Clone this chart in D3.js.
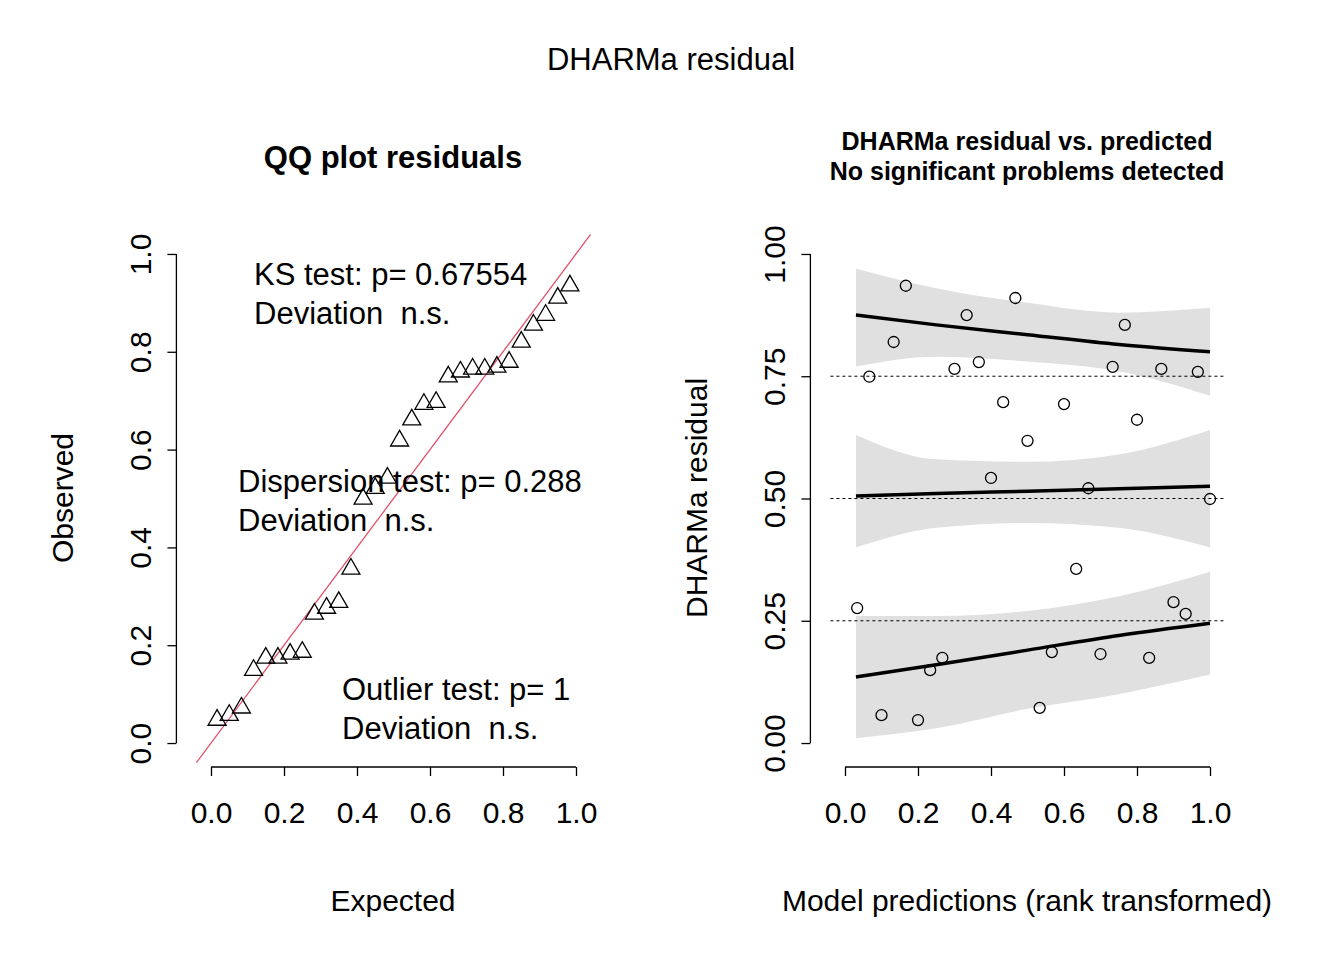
<!DOCTYPE html>
<html lang="en">
<head>
<meta charset="utf-8">
<title>DHARMa residual</title>
<script src="https://cdn.jsdelivr.net/npm/d3@7"></script>
<style>
body { margin: 0; background: white; }
text { font-family: "Liberation Sans", Arial, sans-serif; white-space: pre; }
</style>
</head>
<body>
<script>
var w = 1344, h = 960;
// scaled residuals, in order of model prediction rank
var resid = [0.276, 0.749, 0.057, 0.82, 0.935, 0.047, 0.149, 0.174, 0.765, 0.875,
             0.779, 0.542, 0.697, 0.91, 0.618, 0.072, 0.186, 0.693, 0.356, 0.521,
             0.182, 0.769, 0.855, 0.661, 0.174, 0.765, 0.288, 0.264, 0.759, 0.499];
var n = resid.length;
// quantile regression fits and bands: [x, lower, fit, upper]
var bands = [
  [[0.03, 0.01, 0.135, 0.26], [0.25, 0.03, 0.16, 0.26], [0.5, 0.07, 0.19, 0.27], [0.75, 0.10, 0.22, 0.30], [1.0, 0.14, 0.245, 0.35]],
  [[0.03, 0.40, 0.505, 0.63], [0.25, 0.44, 0.51, 0.58], [0.5, 0.45, 0.515, 0.575], [0.75, 0.44, 0.52, 0.59], [1.0, 0.40, 0.525, 0.64]],
  [[0.03, 0.77, 0.875, 0.97], [0.25, 0.79, 0.855, 0.93], [0.5, 0.78, 0.835, 0.90], [0.75, 0.76, 0.815, 0.88], [1.0, 0.71, 0.80, 0.89]]
];

var svg = d3.select("body").append("svg").attr("width", w).attr("height", h);

svg.append("text").attr("x", 671).attr("y", 70).attr("text-anchor", "middle")
  .attr("font-size", "31px").text("DHARMa residual");

var y = d3.scaleLinear().domain([-0.04, 1.04]).range([762.6, 234.4]);

function frame(g, x, yTicks, fmt) {
  var bx = g.append("g").attr("transform", "translate(0,767)")
    .call(d3.axisBottom(x).tickValues([0, 0.2, 0.4, 0.6, 0.8, 1]).tickFormat(d3.format(".1f")).tickSize(9).tickPadding(26));
  var ly = g.append("g").attr("transform", "translate(" + (x(-0.04) - 20) + ",0)")
    .call(d3.axisLeft(y).tickValues(yTicks).tickFormat(fmt).tickSize(9));
  [bx, ly].forEach(function(a) {
    a.attr("font-size", null).attr("font-family", null);
    a.selectAll("line").attr("stroke-width", 1.3);
    a.selectAll("text").style("font-size", "30px").style("font-family", "Liberation Sans, Arial, sans-serif");
  });
  bx.select(".domain").attr("stroke-width", 1.3).attr("d", "M" + x(0) + ",0H" + x(1));
  ly.select(".domain").attr("stroke-width", 1.3).attr("d", "M0," + y(0) + "V" + y(1));
  ly.selectAll(".tick text").attr("text-anchor", "middle").attr("dy", null)
    .attr("x", 0).attr("y", 0)
    .attr("transform", "translate(-36,0) rotate(-90)")
    .attr("dominant-baseline", "central");
}

// ---- left: QQ plot
var xl = d3.scaleLinear().domain([-0.04, 1.04]).range([196.4, 590.6]);
var gl = svg.append("g");
frame(gl, xl, [0, 0.2, 0.4, 0.6, 0.8, 1], d3.format(".1f"));
gl.append("text").attr("x", 393).attr("y", 168).attr("text-anchor", "middle")
  .attr("font-size", "31px").attr("font-weight", "bold").text("QQ plot residuals");
gl.append("text").attr("x", 393).attr("y", 911).attr("text-anchor", "middle")
  .attr("font-size", "30px").text("Expected");
gl.append("text").attr("transform", "translate(73,498) rotate(-90)").attr("text-anchor", "middle")
  .attr("font-size", "30px").text("Observed");
gl.append("line").attr("x1", xl(-0.04)).attr("y1", y(-0.04)).attr("x2", xl(1.04)).attr("y2", y(1.04))
  .attr("stroke", "#DF536B").attr("stroke-width", 1.3);
var sorted = resid.slice().sort(d3.ascending);
var tri = d3.symbol().type(d3.symbolTriangle).size(140);
gl.selectAll("path.pt").data(sorted).enter().append("path").attr("class", "pt")
  .attr("d", tri)
  .attr("transform", function(d, i) { return "translate(" + xl((i + 0.5) / n) + "," + y(d) + ")"; })
  .attr("fill", "none").attr("stroke", "black").attr("stroke-width", 1.3);
var txt = [["KS test: p= 0.67554", "Deviation  n.s.", 254, 285],
           ["Dispersion test: p= 0.288", "Deviation  n.s.", 238, 492],
           ["Outlier test: p= 1", "Deviation  n.s.", 342, 700]];
txt.forEach(function(t) {
  gl.append("text").attr("x", t[2]).attr("y", t[3]).attr("font-size", "31px").text(t[0]);
  gl.append("text").attr("x", t[2]).attr("y", t[3] + 39).attr("font-size", "31px").text(t[1]);
});

// ---- right: residual vs predicted
var xr = d3.scaleLinear().domain([-0.04, 1.04]).range([830.4, 1224.6]);
var gr = svg.append("g");
gr.selectAll("path.band").data(bands).enter().append("path").attr("class", "band")
  .attr("d", d3.area().curve(d3.curveMonotoneX).x(function(d) { return xr(d[0]); })
    .y0(function(d) { return y(d[1]); }).y1(function(d) { return y(d[3]); }))
  .attr("fill", "#E0E0E0");
gr.selectAll("line.ref").data([0.25, 0.5, 0.75]).enter().append("line")
  .attr("x1", xr(-0.04)).attr("x2", xr(1.04)).attr("y1", y).attr("y2", y)
  .attr("stroke", "black").attr("stroke-dasharray", "3,3").attr("stroke-width", 1);
gr.selectAll("path.fit").data(bands).enter().append("path")
  .attr("d", d3.line().curve(d3.curveMonotoneX).x(function(d) { return xr(d[0]); }).y(function(d) { return y(d[2]); }))
  .attr("fill", "none").attr("stroke", "black").attr("stroke-width", 3.5);
gr.selectAll("circle").data(resid).enter().append("circle")
  .attr("cx", function(d, i) { return xr((i + 1) / n); }).attr("cy", y).attr("r", 5.5)
  .attr("fill", "none").attr("stroke", "black").attr("stroke-width", 1.3);
frame(gr, xr, [0, 0.25, 0.5, 0.75, 1], d3.format(".2f"));
gr.append("text").attr("x", 1027).attr("y", 150).attr("text-anchor", "middle")
  .attr("font-size", "25px").attr("font-weight", "bold").text("DHARMa residual vs. predicted");
gr.append("text").attr("x", 1027).attr("y", 180).attr("text-anchor", "middle")
  .attr("font-size", "25px").attr("font-weight", "bold").text("No significant problems detected");
gr.append("text").attr("x", 1027).attr("y", 911).attr("text-anchor", "middle")
  .attr("font-size", "30px").text("Model predictions (rank transformed)");
gr.append("text").attr("transform", "translate(707,498) rotate(-90)").attr("text-anchor", "middle")
  .attr("font-size", "30px").text("DHARMa residual");
</script>
</body>
</html>
